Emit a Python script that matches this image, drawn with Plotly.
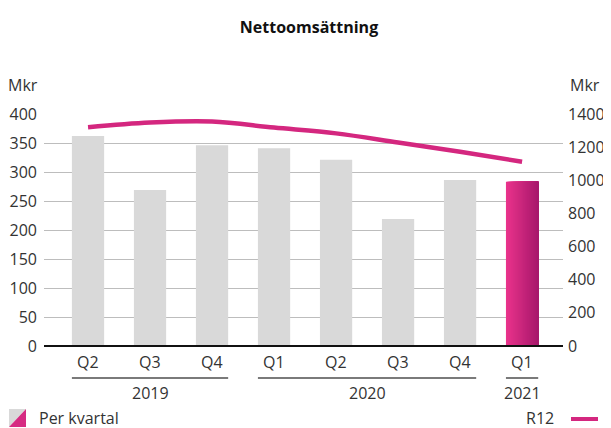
import plotly.graph_objects as go

# data
quarters = ["Q2", "Q3", "Q4", "Q1", "Q2", "Q3", "Q4", "Q1"]
years = ["2019", "2020", "2021"]
year_span = [(0, 2), (3, 6), (7, 7)]   # first/last quarter index per year
per_kvartal = [362, 269, 346, 341, 321, 219, 286, 283]
r12 = [1320, 1348, 1354, 1318, 1283, 1228, 1172, 1112]

FONT = "Open Sans"
TXT = "#333333"
GREY_BAR = "#d9d9d9"
PINK_A = (233, 51, 139)
PINK_B = (168, 24, 108)
PINK_LINE = "#d4277f"

# the page body has an 8px margin, so the figure starts at (8, 8)
OFF = 8
W, H = 611 - OFF, 428 - OFF
# plot area, in page pixels
L, R, T, B = 44, 563, 114, 346


def px_x(px):
    return (px - L) / (R - L)


def px_y(py):
    return (B - py) / (B - T)


def mix(t):
    c = [round(a + (b - a) * t) for a, b in zip(PINK_A, PINK_B)]
    return "rgb(%d,%d,%d)" % tuple(c)


xs = list(range(len(quarters)))
bar_w = 0.52

fig = go.Figure()

# grey quarterly bars (all but the latest)
fig.add_trace(go.Bar(
    x=xs[:-1], y=per_kvartal[:-1], width=bar_w,
    marker=dict(color=GREY_BAR, line_width=0),
    yaxis="y", hoverinfo="skip",
))

# latest quarter with a horizontal pink gradient: overlapping slices to the right edge
n = 30
for i in range(n):
    fig.add_trace(go.Bar(
        x=[xs[-1]], y=[per_kvartal[-1]],
        width=bar_w * (n - i) / n, offset=-bar_w / 2 + i * bar_w / n,
        marker=dict(color=mix(i / (n - 1)), line_width=0),
        yaxis="y", hoverinfo="skip",
    ))

# rolling 12 months line
fig.add_trace(go.Scatter(
    x=xs, y=r12, mode="lines", yaxis="y2",
    line=dict(color=PINK_LINE, width=4.5, shape="spline", smoothing=1.0),
    hoverinfo="skip",
))

shapes = []
annotations = []
lbl_font = dict(size=16, color=TXT, family=FONT)

# year group underlines and labels
for yr, (a, b) in zip(years, year_span):
    shapes.append(dict(type="line", xref="x", yref="paper",
                       x0=a - bar_w / 2, x1=b + bar_w / 2,
                       y0=px_y(378), y1=px_y(378),
                       line=dict(color="#7a7a7a", width=2)))
    annotations.append(dict(text=yr, x=(a + b) / 2, xref="x", y=px_y(393), yref="paper",
                            showarrow=False, font=lbl_font,
                            xanchor="center", yanchor="middle"))

# quarter labels
for x, q in zip(xs, quarters):
    annotations.append(dict(text=q, x=x, xref="x", y=px_y(362), yref="paper",
                            showarrow=False, font=lbl_font,
                            xanchor="center", yanchor="middle"))

# baseline
shapes.append(dict(type="line", xref="paper", yref="paper", x0=0, x1=1, y0=0, y1=0,
                   line=dict(color="#111111", width=2)))

# unit labels
annotations.append(dict(text="Mkr", x=px_x(40), xref="paper", y=px_y(85), yref="paper",
                        showarrow=False, xanchor="right", yanchor="middle", font=lbl_font))
annotations.append(dict(text="Mkr", x=px_x(568), xref="paper", y=px_y(85), yref="paper",
                        showarrow=False, xanchor="left", yanchor="middle", font=lbl_font))

# legend: per kvartal icon (grey / pink diagonal split)
ix0, ix1, iy0, iy1 = px_x(9), px_x(26), px_y(409), px_y(427)
shapes.append(dict(type="path", xref="paper", yref="paper",
                   path=f"M {ix0},{iy0} L {ix1},{iy0} L {ix0},{iy1} Z",
                   fillcolor=GREY_BAR, line_width=0))
shapes.append(dict(type="path", xref="paper", yref="paper",
                   path=f"M {ix1},{iy0} L {ix1},{iy1} L {ix0},{iy1} Z",
                   fillcolor=mix(0.3), line_width=0))
annotations.append(dict(text="Per kvartal", x=px_x(37), xref="paper", y=px_y(418), yref="paper",
                        showarrow=False, xanchor="left", yanchor="middle", font=lbl_font))

# legend: R12 line
shapes.append(dict(type="line", xref="paper", yref="paper",
                   x0=px_x(571), x1=px_x(598), y0=px_y(419), y1=px_y(419),
                   line=dict(color=PINK_LINE, width=4)))
annotations.append(dict(text="R12", x=px_x(556), xref="paper", y=px_y(418), yref="paper",
                        showarrow=False, xanchor="right", yanchor="middle", font=lbl_font))

fig.update_layout(
    width=W, height=H,
    margin=dict(l=L - OFF, r=611 - R, t=T - OFF, b=428 - B, pad=0),
    paper_bgcolor="white", plot_bgcolor="white",
    font=dict(family=FONT, size=16, color=TXT),
    showlegend=False, barmode="overlay",
    title=dict(text="<b>Nettoomsättning</b>", x=(309 - OFF) / W, xanchor="center",
               y=1 - (27 - OFF) / H, yanchor="middle",
               font=dict(size=16, color="#111111", family=FONT)),
    xaxis=dict(range=[-0.71, 7.66], showticklabels=False, showgrid=False,
               zeroline=False, showline=False, fixedrange=True, automargin=False),
    yaxis=dict(range=[0, 400], dtick=50, showgrid=True, gridcolor="#bdbdbd",
               gridwidth=1.3, zeroline=False, showline=False, ticks="",
               ticklabelstandoff=6, tickfont=lbl_font, automargin=False),
    yaxis2=dict(range=[0, 1400], dtick=200, overlaying="y", side="right",
                showgrid=False, zeroline=False, showline=False, ticks="",
                ticklabelstandoff=4, tickfont=lbl_font, automargin=False),
    shapes=shapes, annotations=annotations,
)

fig.write_html("out.html")
